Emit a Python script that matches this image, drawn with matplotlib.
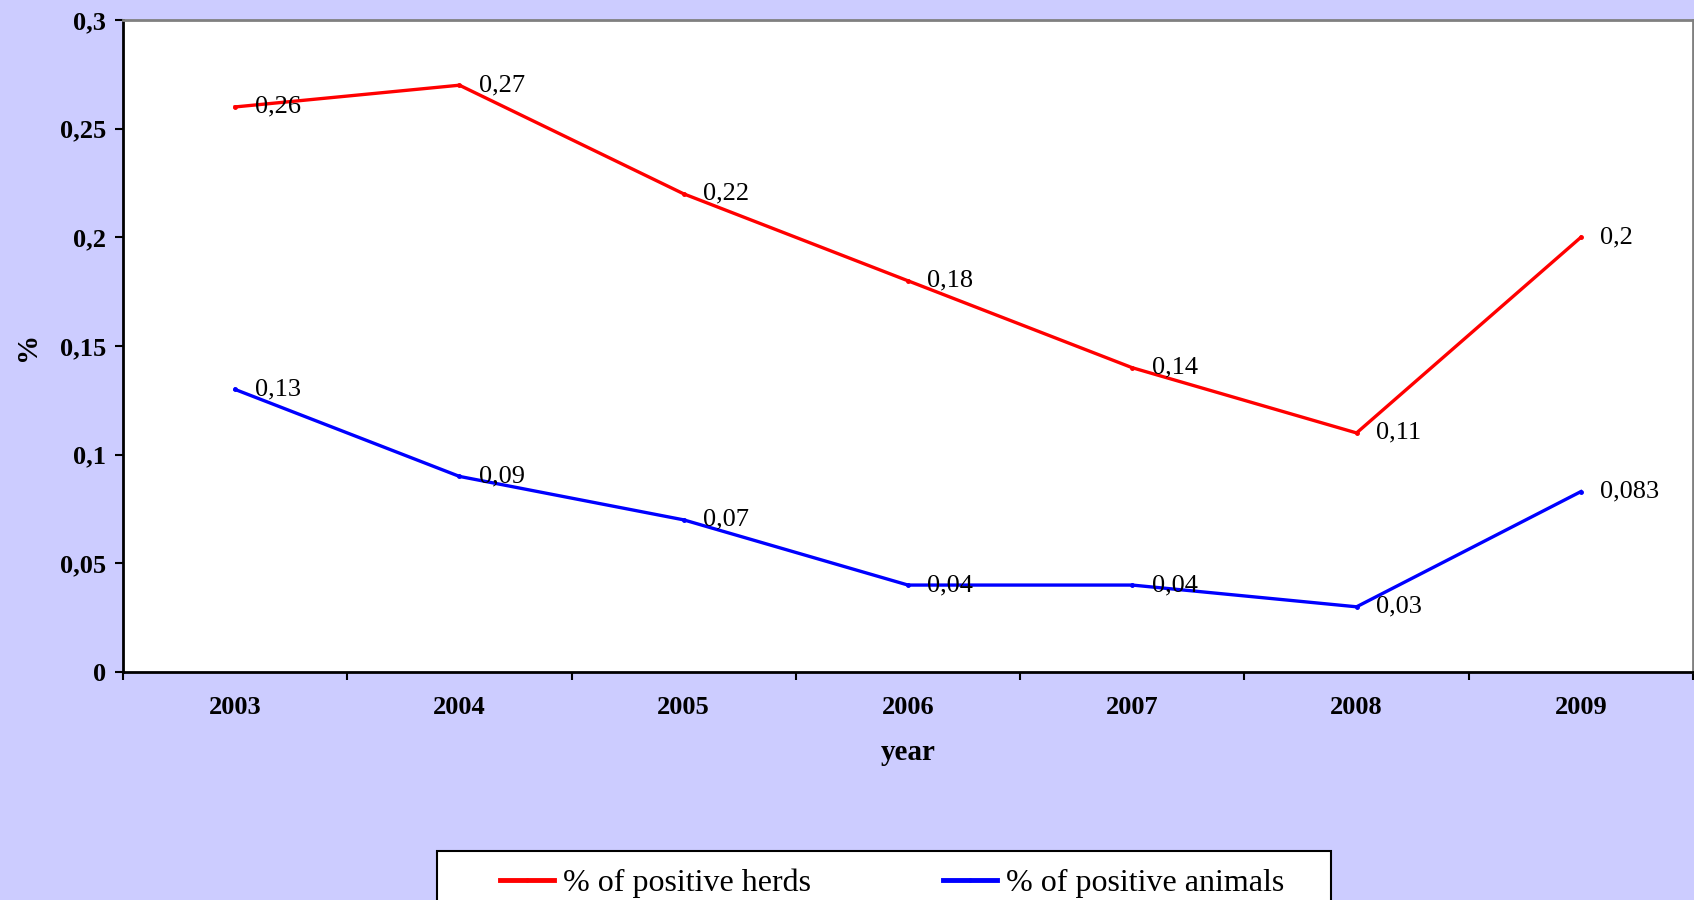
"""Positive herds / animals percentage by year."""

import matplotlib
import matplotlib.pyplot as plt
import numpy as np
from matplotlib.lines import Line2D
from matplotlib.patches import Rectangle

matplotlib.use("Agg")

years = ["2003", "2004", "2005", "2006", "2007", "2008", "2009"]
herds = [0.26, 0.27, 0.22, 0.18, 0.14, 0.11, 0.2]
animals = [0.13, 0.09, 0.07, 0.04, 0.04, 0.03, 0.083]
herd_labels = ["0,26", "0,27", "0,22", "0,18", "0,14", "0,11", "0,2"]
animal_labels = ["0,13", "0,09", "0,07", "0,04", "0,04", "0,03", "0,083"]
y_ticks = [0, 0.05, 0.1, 0.15, 0.2, 0.25, 0.3]
y_tick_labels = ["0", "0,05", "0,1", "0,15", "0,2", "0,25", "0,3"]

BG = "#CCCCFF"
RED = "#FF0000"
BLUE = "#0000FF"
W, H = 1694, 900
plt.rcParams["font.family"] = ["Liberation Serif", "DejaVu Serif"]

fig = plt.figure(figsize=(W / 100, H / 100), dpi=100)
fig.patch.set_facecolor(BG)
ax = fig.add_axes([123 / W, 1 - 672 / H, 1570 / W, 652 / H])
ax.set_facecolor("white")

x = np.arange(len(years))
ax.plot(x, herds, color=RED, linewidth=2.4, marker="o", markersize=2.5)
ax.plot(x, animals, color=BLUE, linewidth=2.4, marker="o", markersize=2.5)

for xi, v, t in zip(x, herds, herd_labels):
    ax.annotate(t, (xi, v), xytext=(14, 0), textcoords="offset points",
                ha="left", va="center", fontsize=19)
for xi, v, t in zip(x, animals, animal_labels):
    ax.annotate(t, (xi, v), xytext=(14, 0), textcoords="offset points",
                ha="left", va="center", fontsize=19)

ax.set_xlim(-0.5, len(years) - 0.5)
ax.set_ylim(0, 0.3)
ax.set_yticks(y_ticks)
ax.set_yticklabels(y_tick_labels, fontsize=19, fontweight="bold")
ax.set_xticks(x)
ax.set_xticklabels(years, fontsize=19, fontweight="bold")
ax.tick_params(axis="x", which="major", length=0, pad=17)
ax.set_xticks(np.arange(-0.5, len(years)), minor=True)
ax.tick_params(axis="x", which="minor", length=6, width=1.5, direction="out")
ax.tick_params(axis="y", length=6, width=1.5, direction="out", pad=6)

for side in ("left", "bottom"):
    ax.spines[side].set_color("black")
    ax.spines[side].set_linewidth(2)
for side in ("top", "right"):
    ax.spines[side].set_color("#808080")
    ax.spines[side].set_linewidth(2)

ax.text(0.5, (672 - 753) / 652, "year", transform=ax.transAxes,
        ha="center", va="center", fontsize=21, fontweight="bold")
ax.text((27 - 123) / 1570, 0.5, "%", transform=ax.transAxes, rotation=90,
        ha="center", va="center", fontsize=21, fontweight="bold")

# legend box, drawn by hand so the padding matches
fig.patches.append(Rectangle((437 / W, -0.1), (1331 - 437) / W, 0.1 + 1 - 851 / H,
                             transform=fig.transFigure, facecolor="white",
                             edgecolor="black", linewidth=1.5, zorder=1))
entries = [(RED, "% of positive herds", 500), (BLUE, "% of positive animals", 943)]
for color, label, left in entries:
    handle = Line2D([], [], color=color, linewidth=3.5, marker="o", markersize=2)
    fig.legend(handles=[handle], labels=[label], loc="center left",
               bbox_to_anchor=(left / W, 1 - 883 / H), fontsize=23,
               frameon=False, borderpad=0, borderaxespad=0,
               handlelength=1.7, handletextpad=0.27)

fig.savefig("out.png", dpi=100, facecolor=BG)
